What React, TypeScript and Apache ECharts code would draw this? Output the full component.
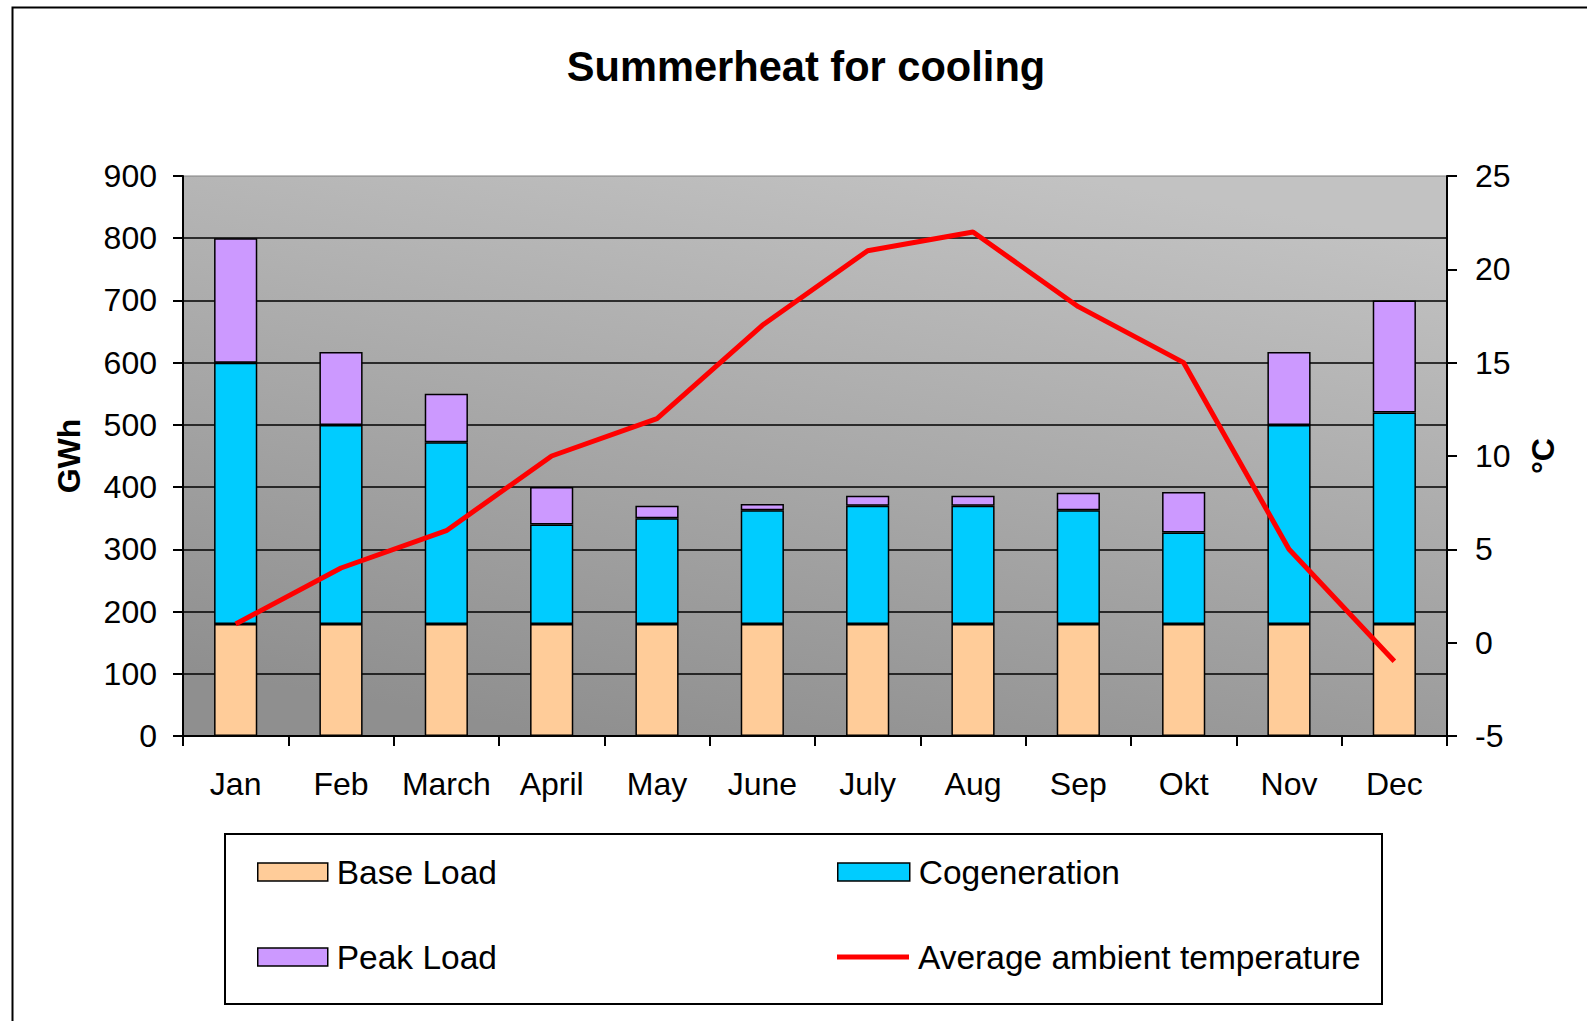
import React, { useEffect, useRef } from "react";
import * as echarts from "echarts";

const months = ["Jan", "Feb", "March", "April", "May", "June", "July", "Aug", "Sep", "Okt", "Nov", "Dec"];
const baseLoad = [180, 180, 180, 180, 180, 180, 180, 180, 180, 180, 180, 180];
const cogeneration = [420, 320, 292, 160, 170, 183, 190, 190, 183, 147, 320, 340];
const peakLoad = [200, 117, 78, 60, 20, 10, 16, 16, 28, 65, 117, 180];
const temperature = [1, 4, 6, 10, 12, 17, 21, 22, 18, 15, 5, -1];

const FONT = "'Liberation Sans', Arial, sans-serif";

export default function App() {
  const ref = useRef<HTMLDivElement>(null);
  useEffect(() => {
    if (!ref.current) return;
    const chart = echarts.init(ref.current, undefined, { renderer: "svg" });
    const barBorder = { borderColor: "#000", borderWidth: 1.5 };
    const legendText = { fontFamily: FONT, fontSize: 33.5, color: "#000", lineHeight: 34, padding: [0, 0, 0, 4] };
    chart.setOption({
      animation: false,
      backgroundColor: "#fff",
      textStyle: { fontFamily: FONT },
      title: {
        text: "Summerheat for cooling",
        left: 801,
        top: 40,
        textAlign: "center",
        textStyle: { fontFamily: FONT, fontSize: 41.6, fontWeight: "bold", color: "#000" },
      },
      grid: {
        left: 183,
        right: 140,
        top: 176,
        bottom: 285,
        show: true,
        borderColor: "#808080",
        borderWidth: 1,
        backgroundColor: new echarts.graphic.LinearGradient(0.3, 1, 0.7, 0, [
          { offset: 0, color: "#8f8f8f" },
          { offset: 1, color: "#c2c2c2" },
        ]),
      },
      legend: [
        {
          orient: "vertical",
          left: 252,
          top: 850,
          itemWidth: 70,
          itemHeight: 18,
          itemGap: 51,
          icon: "rect",
          itemStyle: { borderColor: "#000", borderWidth: 1.5 },
          data: ["Base Load", "Peak Load"],
          textStyle: legendText,
        },
        {
          orient: "vertical",
          left: 832,
          top: 850,
          itemWidth: 72,
          itemHeight: 18,
          icon: "rect",
          itemStyle: { borderColor: "#000", borderWidth: 1.5 },
          data: ["Cogeneration"],
          textStyle: legendText,
        },
        {
          orient: "vertical",
          left: 832,
          top: 935,
          itemWidth: 72,
          itemHeight: 5,
          icon: "rect",
          itemStyle: { color: "#FF0000", borderWidth: 0 },
          data: ["Average ambient temperature"],
          textStyle: legendText,
        },
      ],
      graphic: [
        {
          type: "rect",
          left: 10,
          top: 5,
          shape: { x: 0, y: 0, width: 1600, height: 1040 },
          style: { fill: "none", stroke: "#000", lineWidth: 2 },
          silent: true,
          z: -10,
        },
        {
          type: "rect",
          shape: { x: 225, y: 834, width: 1157, height: 170 },
          style: { fill: "none", stroke: "#000", lineWidth: 2 },
          silent: true,
        },
      ],
      xAxis: {
        type: "category",
        data: months,
        boundaryGap: true,
        axisLine: { lineStyle: { color: "#000", width: 2 } },
        axisTick: { show: true, interval: 0, length: 10, lineStyle: { color: "#000", width: 2 } },
        axisLabel: { color: "#000", fontSize: 32, fontFamily: FONT, margin: 32, interval: 0 },
      },
      yAxis: [
        {
          type: "value",
          min: 0,
          max: 900,
          interval: 100,
          name: "GWh",
          nameLocation: "middle",
          nameGap: 98,
          nameRotate: 90,
          nameTextStyle: { fontFamily: FONT, fontSize: 32, fontWeight: "bold", color: "#000" },
          axisLine: { show: true, lineStyle: { color: "#000", width: 2 } },
          axisTick: { show: true, length: 10, lineStyle: { color: "#000", width: 2 } },
          axisLabel: { color: "#000", fontSize: 32, fontFamily: FONT, margin: 26 },
          splitLine: { show: true, showMaxLine: false, lineStyle: { color: "#000", width: 1.6 } },
        },
        {
          type: "value",
          min: -5,
          max: 25,
          interval: 5,
          position: "right",
          name: "°C",
          nameLocation: "middle",
          nameGap: 80,
          nameRotate: 90,
          nameTextStyle: { fontFamily: FONT, fontSize: 32, fontWeight: "bold", color: "#000" },
          axisLine: { show: true, lineStyle: { color: "#000", width: 2 } },
          axisTick: { show: true, length: 10, lineStyle: { color: "#000", width: 2 } },
          axisLabel: { color: "#000", fontSize: 32, fontFamily: FONT, margin: 28 },
          splitLine: { show: false },
        },
      ],
      series: [
        {
          name: "Base Load",
          type: "bar",
          stack: "total",
          barWidth: "41%",
          data: baseLoad,
          itemStyle: { color: "#FFCC99", ...barBorder },
        },
        {
          name: "Cogeneration",
          type: "bar",
          stack: "total",
          barWidth: "41%",
          data: cogeneration,
          itemStyle: { color: "#00CCFF", ...barBorder },
        },
        {
          name: "Peak Load",
          type: "bar",
          stack: "total",
          barWidth: "41%",
          data: peakLoad,
          itemStyle: { color: "#CC99FF", ...barBorder },
        },
        {
          name: "Average ambient temperature",
          type: "line",
          yAxisIndex: 1,
          data: temperature,
          symbol: "none",
          showSymbol: false,
          lineStyle: { color: "#FF0000", width: 5 },
          itemStyle: { color: "#FF0000" },
          z: 5,
        },
      ],
    });
    return () => chart.dispose();
  }, []);
  return (
    <div
      ref={ref}
      style={{ position: "absolute", left: 0, top: 0, width: 1587, height: 1021 }}
    />
  );
}
